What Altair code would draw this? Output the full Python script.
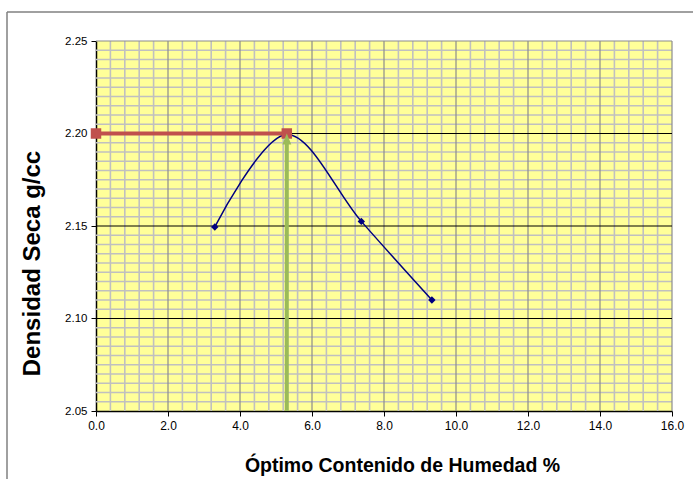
import altair as alt
import pandas as pd

# Compaction test: moisture content (%) vs dry density (g/cc)
humedad = [3.3, 5.3, 7.37, 9.33]
densidad = [2.1495, 2.1995, 2.1525, 2.110]

# Optimum moisture and maximum dry density
optimo_humedad = 5.3
densidad_max = 2.20

x_domain = [0, 16]
y_domain = [2.05, 2.25]
x_ticks = [0, 2, 4, 6, 8, 10, 12, 14, 16]
y_ticks = [2.05, 2.10, 2.15, 2.20, 2.25]
# minor gridlines every 0.4 % and every 0.005 g/cc (majors excluded)
x_minor = [round(i * 0.4, 2) for i in range(41) if i % 5]
y_minor = [round(2.05 + i * 0.005, 3) for i in range(41) if i % 10]

FONT = "Liberation Sans"
YELLOW = "#FFFF99"
NAVY = "#000080"
RED = "#C0504D"
GREEN = "#9BBB59"
GRAY = "#8C8C8C"

curva = pd.DataFrame({"humedad": humedad, "densidad": densidad})
horizontal = pd.DataFrame({"humedad": [0, optimo_humedad],
                           "densidad": [densidad_max, densidad_max]})
vertical = pd.DataFrame({"humedad": [optimo_humedad],
                         "densidad": [y_domain[0]],
                         "densidad2": [densidad_max - 0.003],
                         "punta": [densidad_max]})

xs = alt.Scale(domain=x_domain, nice=False, zero=False)
ys = alt.Scale(domain=y_domain, nice=False, zero=False)


def gx(field="humedad"):
    return alt.X(f"{field}:Q", scale=xs)


def gy(field="densidad"):
    return alt.Y(f"{field}:Q", scale=ys)


# axes carried by an invisible layer of the curve points
ejes = alt.Chart(curva).mark_point(opacity=0).encode(
    x=alt.X("humedad:Q", scale=xs, axis=alt.Axis(
        orient="bottom", values=x_ticks, format=".1f", grid=False,
        labelFlush=False, labelOverlap=False,
        domainColor="black", domainWidth=1.5, tickColor="black", tickSize=5,
        labelFont=FONT, labelFontSize=12, labelColor="black", labelPadding=4,
        title="Óptimo Contenido de Humedad %", titleFont=FONT,
        titleFontSize=19.5, titleFontWeight="bold", titleColor="black",
        titleX=306, titleY=54, titleAlign="center", titleBaseline="middle")),
    y=alt.Y("densidad:Q", scale=ys, axis=alt.Axis(
        orient="left", values=y_ticks, format=".2f", grid=False,
        labelFlush=False, labelOverlap=False,
        domainColor="black", domainWidth=1.5, tickColor="black", tickSize=5,
        labelFont=FONT, labelFontSize=11.5, labelColor="black", labelPadding=4,
        title="Densidad Seca g/cc", titleFont=FONT, titleFontSize=24,
        titleFontWeight="bold", titleColor="black", titleAngle=-90,
        titleX=-64, titleY=222, titleAlign="center", titleBaseline="middle")),
)

# gridlines
minor_v = alt.Chart(pd.DataFrame({"humedad": x_minor})).mark_rule(
    color="#C0C0C0", strokeWidth=1.6).encode(x=gx())
minor_h = alt.Chart(pd.DataFrame({"densidad": y_minor})).mark_rule(
    color="#C0C0C0", strokeWidth=1.6).encode(y=gy())
major_v = alt.Chart(pd.DataFrame({"humedad": x_ticks[1:]})).mark_rule(
    color=GRAY, strokeWidth=1.2).encode(x=gx())
major_h = alt.Chart(pd.DataFrame({"densidad": y_ticks[1:]})).mark_rule(
    strokeWidth=1.2).encode(
    y=gy(),
    color=alt.condition(alt.datum.densidad >= 2.249, alt.value(GRAY),
                        alt.value("black")))

linea = alt.Chart(curva).mark_line(
    interpolate="catmull-rom", color=NAVY, strokeWidth=1.5
).encode(x=gx(), y=gy())

puntos = alt.Chart(curva).mark_point(
    shape="diamond", filled=True, color=NAVY, size=55, opacity=1
).encode(x=gx(), y=gy())

linea_roja = alt.Chart(horizontal).mark_line(color=RED, strokeWidth=4).encode(
    x=gx(), y=gy())

cuadros = alt.Chart(horizontal).mark_point(
    shape="square", filled=True, color=RED, size=110, opacity=1
).encode(x=gx(), y=gy())

linea_verde = alt.Chart(vertical).mark_rule(color=GREEN, strokeWidth=4).encode(
    x=gx(), y=gy(), y2="densidad2:Q")

flecha = alt.Chart(vertical).mark_point(
    shape="M0,0 L0.9,2.2 L-0.9,2.2 Z", filled=True, color=GREEN, size=100,
    opacity=1
).encode(x=gx(), y=gy("punta"))

# outer chart frame
marco_v = alt.Chart(vertical).mark_rule(color="#808080", strokeWidth=1.5).encode(
    x=alt.value(-89), y=alt.value(-29), y2=alt.value(460))
marco_h = alt.Chart(vertical).mark_rule(color="#808080", strokeWidth=1.5).encode(
    x=alt.value(-89), x2=alt.value(620), y=alt.value(-29))

chart = alt.layer(
    ejes, minor_v, minor_h, major_v, major_h, linea, puntos, linea_roja,
    cuadros, linea_verde, flecha, marco_v, marco_h
).properties(
    width=576, height=370,
    autosize=alt.AutoSizeParams(type="none"),
    padding={"left": 96, "top": 41, "right": 21, "bottom": 68},
    background="white",
).configure_view(fill=YELLOW, stroke=None)

chart.save("out.html", embed_options={"renderer": "svg", "actions": False})
